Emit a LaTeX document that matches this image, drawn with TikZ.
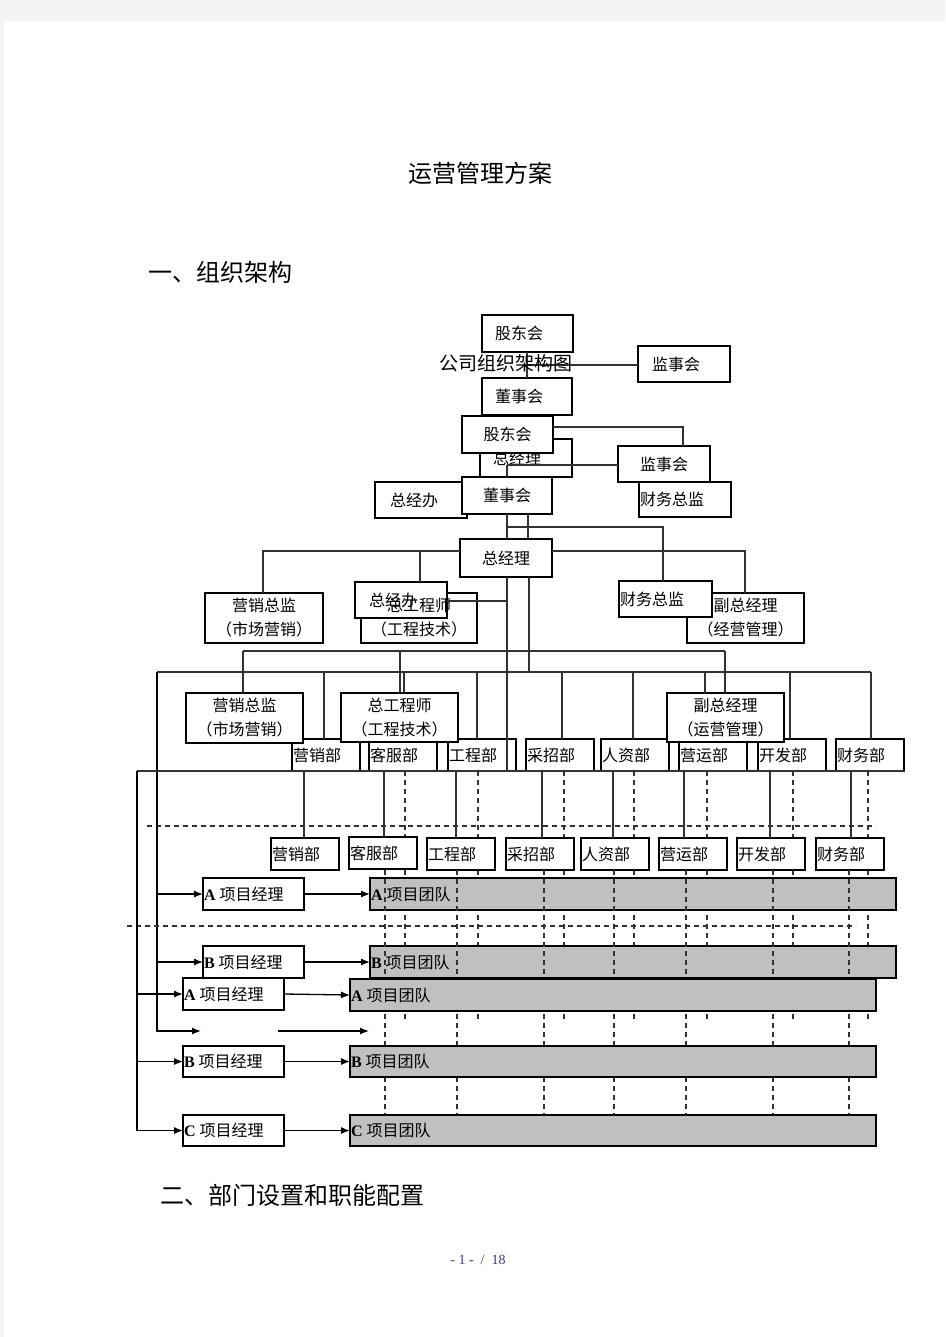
\documentclass[tikz,border=0pt]{standalone}
\usepackage{fontspec}
\setmainfont{Noto Sans CJK SC}
\newfontfamily\lat{Liberation Serif}
\usetikzlibrary{arrows.meta}
\definecolor{pagebg}{RGB}{244,244,244}
\definecolor{barc}{RGB}{192,192,192}
\definecolor{lc}{RGB}{50,50,50}
\definecolor{numc}{RGB}{60,60,110}
\newcommand\AB[1]{{\lat\bfseries #1}\hspace{4pt}}
\tikzset{
 bx/.style={draw=black, fill=white, line width=1.1pt, inner sep=0pt, outer sep=0pt, anchor=north west, font=\fontsize{16}{24}\selectfont, align=center},
 wh/.style 2 args={minimum width=#1pt, minimum height=#2pt},
 thk/.style={line width=1.7pt},
 lpad/.style 2 args={text width=#1pt, inner xsep=#2pt, align=left},
 dp/.style={bx, wh={68}{32}, lpad={66}{1}},
 pm/.style={bx, wh={101}{32}, lpad={99}{1}},
 pt/.style={bx, fill=barc, wh={526}{32}, lpad={524}{1}},
 ln/.style={draw=lc, line width=1.3pt},
 dsh/.style={draw=lc, line width=1.2pt, dash pattern=on 5pt off 4pt},
 arr/.style={draw=black, line width=1.3pt, -{Latex[length=9pt,width=7pt]}},
 txt/.style={inner sep=0pt, outer sep=0pt, font=\fontsize{16}{24}\selectfont, align=center},
 big/.style={inner sep=0pt, font=\fontsize{24}{24}\selectfont},
}
\begin{document}
\begin{tikzpicture}[x=1pt,y=-1pt]
\fill[pagebg] (0,0) rectangle (945,1337);
\fill[white] (4,22) rectangle (945,1337);
\useasboundingbox (0,0) rectangle (945,1337);

% headings
\node[big] (title) at (480,173) {运营管理方案};
\node[big, anchor=west] (sec1) at (148,272) {一、组织架构};
\node[big, anchor=west] (sec2) at (160,1195) {二、部门设置和职能配置};
\node[font=\lat\fontsize{14}{14}\selectfont, text=numc, inner sep=0pt] (pg) at (478,1260) {- 1 -\ \ /\ \ 18};

% ---------- top stack, first copy ----------
\node[bx, thk, wh={91}{37}, lpad={65}{13}] (gd1) at (482,315) {股东会};
\node[bx, thk, wh={92}{36}, lpad={64}{14}] (jsh1) at (638,346) {监事会};
\node[bx, wh={90}{37}, lpad={64}{13}] (dsh1) at (482,378) {董事会};
\draw[ln] (gd1.south -| 527,0) -- (dsh1.north -| 527,0);
\draw[ln] (527,365) -- (jsh1.west |- 0,365);
\node[inner sep=0pt, font=\fontsize{19}{19}\selectfont] (chart) at (506,363) {公司组织架构图};
\node[bx, wh={92}{38}, lpad={66}{13}] (zjl1) at (480,439) {总经理};
\node[bx, thk, wh={92}{36}, lpad={62}{15}] (zjb1) at (375,482) {总经办};
\node[bx, wh={92}{35}, lpad={90}{1}] (cwzj1) at (639,482) {财务总监};

% ---------- top stack, second copy ----------
\node[bx, thk, wh={91}{37}] (gd2) at (462,416) {股东会};
\node[bx, wh={92}{36}] (jsh2) at (618,446) {监事会};
\draw[ln] (gd2.east |- 0,427) -| (jsh2.north -| 683,0);
\draw[ln] (jsh2.west |- 0,465) -- (507,465) coordinate (j465);
\node[bx, wh={90}{37}] (dsh2) at (462,477) {董事会};
\draw[ln] (j465) -- (dsh2.north -| 507,0);
\node[bx, thk, wh={92}{38}] (zjl2) at (460,539) {总经理};
\draw[ln] (dsh2.south -| 507,0) -- (zjl2.north -| 507,0);
\draw[ln] (dsh2.south -| 528,0) -- (zjl2.north -| 528,0);

% ---------- second level boxes ----------
\node[bx, wh={118}{50}] (yxzj1) at (205,593) {营销总监\\（市场营销）};
\node[bx, wh={116}{50}] (zgcs1) at (361,593) {};
\node[bx, wh={92}{36}, lpad={64}{14}] (zjb2) at (355,582) {总经办};
\node[txt] (zgcs1t) at (419,618) {总工程师\\（工程技术）};
\node[bx, wh={117}{50}] (fzjl1) at (687,593) {副总经理\\（经营管理）};
\node[bx, wh={93}{36}, lpad={91}{1}] (cwzj2) at (619,581) {财务总监};

\draw[ln] (507,527) -| (cwzj2.north -| 663,0);
\draw[ln] (zjl2.west |- 0,551) -| (yxzj1.north -| 263,0);
\draw[ln] (420,551) -- (zjb2.north -| 420,0);
\draw[ln] (zjl2.east |- 0,551) -| (fzjl1.north -| 745,0);
\draw[ln] (zjb2.east |- 0,601) -- (507,601);
\draw[ln] (zjl2.south -| 529,0) -- (529,672);

% ---------- third level ----------
\draw[ln] (243,651) -- (725,651);
\draw[ln] (157,672) -- (871,672);

% department row 1
\node[dp] (yxb1) at (292,739) {营销部};
\node[dp] (kfb1) at (369,739) {客服部};
\node[dp] (gcb1) at (448,739) {工程部};
\node[dp] (czb1) at (526,739) {采招部};
\node[dp, thk] (rzb1) at (601,739) {人资部};
\node[dp, thk] (yyb1) at (679,739) {营运部};
\node[dp] (kfab1) at (758,739) {开发部};
\node[dp] (cwb1) at (836,739) {财务部};
% manager boxes over dept boxes
\node[bx, thk, wh={117}{50}] (yxzj2) at (186,693) {营销总监\\（市场营销）};
\node[bx, thk, wh={117}{49}] (zgcs2) at (341,693) {总工程师\\（工程技术）};
\node[bx, thk, wh={117}{49}] (fzjl2) at (667,693) {副总经理\\（运营管理）};
\draw[ln] (243,651) -- (yxzj2.north -| 243,0);
\draw[ln] (400,651) -- (zgcs2.north -| 400,0);
\draw[ln] (725,651) -- (fzjl2.north -| 725,0);

\draw[ln] (324,672) -- (yxb1.north -| 324,0);
\draw[ln] (404,672) -- (zgcs2.north -| 404,0);
\draw[ln] (477,672) -- (gcb1.north -| 477,0);
\draw[ln] (562,672) -- (czb1.north -| 562,0);
\draw[ln] (633,672) -- (rzb1.north -| 633,0);
\draw[ln] (705,672) -- (fzjl2.north -| 705,0);
\draw[ln] (790,672) -- (kfab1.north -| 790,0);
\draw[ln] (871,672) -- (cwb1.north -| 871,0);
\draw[ln] (zjl2.south -| 507,0) -- (507,771);

% ---------- project rows, first copy ----------
\foreach \x in {405,478,564,634,707,793,868} \draw[dsh] (\x,771) -- (\x,1022);
\draw[dsh] (147,826) -- (876,826);
\node[pm] (pmA1) at (203,878) {\AB{A}项目经理};
\node[pt, thk] (ptA1) at (370,878) {\AB{A}项目团队};
\node[pm] (pmB1) at (203,946) {\AB{B}项目经理};
\node[pt, thk] (ptB1) at (370,946) {\AB{B}项目团队};
\coordinate (pmC1w) at (201,1031);
\coordinate (ptC1s) at (278,1031);
\coordinate (ptC1w) at (369,1031);
\draw[arr] (157,672) |- (pmC1w);
\draw[arr] (pmA1.west -| 157,0) -- (pmA1.west);
\draw[arr] (pmB1.west -| 157,0) -- (pmB1.west);
\draw[arr] (pmA1.east) -- (ptA1.west);
\draw[arr] (pmB1.east) -- (ptB1.west);
\draw[arr] (ptC1s) -- (ptC1w);

% ---------- second copy ----------
\node[dp] (yxb2) at (271,838) {营销部};
\node[dp] (kfb2) at (349,837) {客服部};
\node[dp, thk] (gcb2) at (427,838) {工程部};
\node[dp] (czb2) at (506,838) {采招部};
\node[dp] (rzb2) at (581,838) {人资部};
\node[dp] (yyb2) at (659,838) {营运部};
\node[dp, thk] (kfab2) at (737,838) {开发部};
\node[dp] (cwb2) at (816,838) {财务部};
\draw[ln] (137,771) -- (905,771);
\draw[ln] (304,771) -- (yxb2.north -| 304,0);
\draw[ln] (384,771) -- (kfb2.north -| 384,0);
\draw[ln] (456,771) -- (gcb2.north -| 456,0);
\draw[ln] (542,771) -- (czb2.north -| 542,0);
\draw[ln] (613,771) -- (rzb2.north -| 613,0);
\draw[ln] (684,771) -- (yyb2.north -| 684,0);
\draw[ln] (770,771) -- (kfab2.north -| 770,0);
\draw[ln] (851,771) -- (cwb2.north -| 851,0);
\foreach \x in {385,457,544,614,686,773,849} \draw[dsh] (\x,870) -- (\x,1115);
\draw[dsh] (127,926) -- (856,926);

\node[pm] (pmA2) at (183,978) {\AB{A}项目经理};
\node[pt] (ptA2) at (350,979) {\AB{A}项目团队};
\node[pm, wh={101}{31}] (pmB2) at (183,1046) {\AB{B}项目经理};
\node[pt, wh={526}{31}] (ptB2) at (350,1046) {\AB{B}项目团队};
\node[pm, wh={101}{31}] (pmC2) at (183,1115) {\AB{C}项目经理};
\node[pt, wh={526}{31}] (ptC2) at (350,1115) {\AB{C}项目团队};
\draw[arr] (137,771) |- (pmC2.west);
\draw[arr] (pmA2.west -| 137,0) -- (pmA2.west);
\draw[arr] (pmB2.west -| 137,0) -- (pmB2.west);
\draw[arr] (pmA2.east) -- (ptA2.west);
\draw[arr] (pmB2.east) -- (ptB2.west);
\draw[arr] (pmC2.east) -- (ptC2.west);
\end{tikzpicture}
\end{document}
